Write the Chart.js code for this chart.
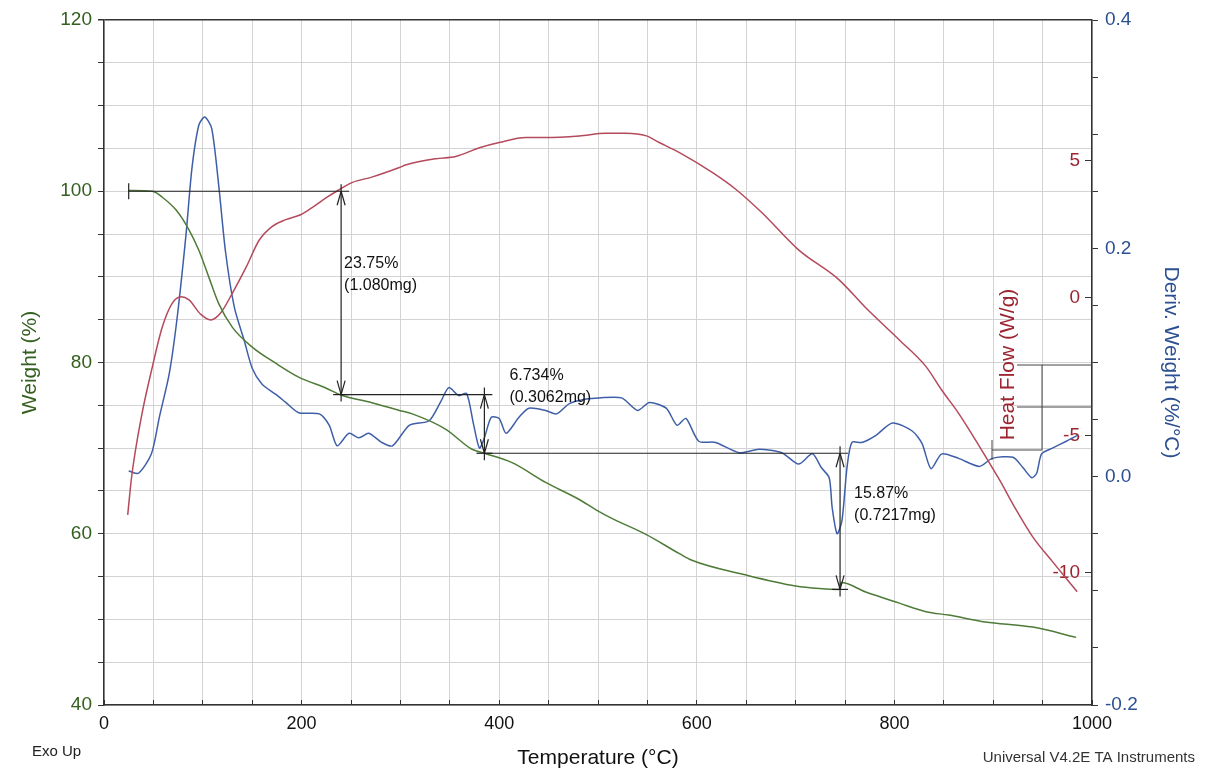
<!DOCTYPE html>
<html>
<head>
<meta charset="utf-8">
<script src="https://cdn.jsdelivr.net/npm/chart.js@4.4.1/dist/chart.umd.min.js"></script>
<style>
body{margin:0;background:#fff;}
#wrap{width:1207px;height:774px;}
</style>
</head>
<body>
<div id="wrap"><canvas id="grafico" width="1207" height="774"></canvas></div>
<script>
let weightTemp = [25, 49, 59, 73, 86, 96, 106, 116, 130, 150, 174, 197, 225, 240, 271, 299, 312, 346, 372, 385,
    413, 447, 481, 498, 514, 549, 582, 595, 649, 700, 724, 744, 746, 771, 805, 832, 855, 892, 940, 984];
let weightValue = [100.1, 100.0, 99.3, 97.8, 95.5, 93.1, 90.0, 86.9, 84.1, 81.8, 79.9, 78.3, 77.0, 76.2, 75.3, 74.4, 74.0, 72.2, 69.9, 69.4,
    68.3, 66.0, 64.0, 62.8, 61.8, 59.9, 57.7, 56.9, 55.2, 53.9, 53.6, 53.5, 54.3, 53.2, 51.9, 50.9, 50.5, 49.7, 49.1, 47.9];

let heatTemp = [24, 28, 38, 49, 59, 69, 78, 86, 98, 108, 118, 130, 144, 157, 170, 184, 199, 211, 225, 238,
    251, 271, 299, 306, 336, 356, 380, 400, 427, 447, 481, 508, 528, 549, 562, 582, 616, 640, 666, 703,
    744, 771, 805, 832, 848, 865, 886, 906, 923, 940, 960, 985];
let heatValue = [-7.9, -6.5, -4.3, -2.5, -1.06, -0.2, 0.04, -0.07, -0.6, -0.8, -0.55, 0.18, 1.13, 2.1, 2.6, 2.85, 3.03, 3.3, 3.65, 3.94,
    4.2, 4.4, 4.75, 4.85, 5.07, 5.15, 5.47, 5.66, 5.84, 5.84, 5.9, 6.0, 6.0, 5.9, 5.66, 5.3, 4.56, 3.94, 3.1, 1.75,
    0.66, -0.36, -1.53, -2.5, -3.36, -4.2, -5.4, -6.6, -7.7, -8.7, -9.6, -10.7];

let derivTemp = [25, 35, 48, 56, 66, 74, 83, 89, 96, 102, 109, 116, 123, 132, 142, 150, 160, 174, 184, 197,
    218, 228, 236, 248, 258, 268, 281, 292, 309, 329, 341, 349, 359, 367, 374, 380, 385, 392, 400, 407,
    420, 430, 447, 458, 471, 488, 501, 524, 540, 552, 569, 580, 589, 602, 619, 643, 663, 686, 703, 717,
    726, 734, 737, 742, 747, 752, 757, 767, 781, 798, 818, 828, 837, 848, 865, 886, 899, 920, 930, 939,
    944, 949, 960, 974, 985];
let derivValue = [0.005, 0.003, 0.020, 0.052, 0.090, 0.139, 0.212, 0.270, 0.308, 0.315, 0.305, 0.256, 0.197, 0.148, 0.119, 0.095, 0.081, 0.072, 0.065, 0.056,
    0.055, 0.045, 0.027, 0.038, 0.034, 0.038, 0.030, 0.027, 0.045, 0.049, 0.066, 0.078, 0.071, 0.073, 0.046, 0.025, 0.034, 0.052, 0.051, 0.038,
    0.052, 0.060, 0.058, 0.055, 0.064, 0.068, 0.069, 0.069, 0.058, 0.065, 0.060, 0.045, 0.051, 0.031, 0.030, 0.021, 0.024, 0.021, 0.011, 0.020,
    0.008, -0.001, -0.027, -0.050, -0.038, 0.008, 0.030, 0.030, 0.036, 0.047, 0.040, 0.029, 0.007, 0.020, 0.016, 0.009, 0.016, 0.017, 0.008, -0.001,
    0.003, 0.020, 0.025, 0.031, 0.036];

// escalones de perdida de peso
let stepStart = [25, 240, 385];
let stepTemp = [240, 385, 745];
let stepFrom = [100, 76.25, 69.4];
let stepTo = [76.25, 69.4, 53.5];
let stepPct = ["23.75%", "6.734%", "15.87%"];
let stepMass = ["(1.080mg)", "(0.3062mg)", "(0.7217mg)"];

// estilo
let labelDx = [3, 25, 14];
let labelDy = [-18, -37, -17];
let verde = "#4f7b38", verdeTexto = "#34601f";
let rojo = "#b44a5b", rojoTexto = "#9c2530";
let azul = "#3e5fa8", azulTexto = "#2c4f92";
let rejilla = "#d3d3d3", eje = "#333333";
let fuente = "'Liberation Sans', Arial, sans-serif";

Chart.defaults.font.family = fuente;

function puntos(xs, ys){
    return xs.map((t, i) => ({x: t, y: ys[i]}));
}

let anotaciones = {
    id: "anotaciones",
    afterDatasetsDraw(chart){
        let c = chart.ctx;
        let x = chart.scales.x;
        let y = chart.scales.yWeight;
        let area = chart.chartArea;
        c.save();
        c.strokeStyle = "#222";
        c.lineWidth = 1.2;
        let linea = (x1, y1, x2, y2) => { c.beginPath(); c.moveTo(x1, y1); c.lineTo(x2, y2); c.stroke(); };
        let flecha = (px, py, dir) => { linea(px - 4, py + dir * 14, px, py); linea(px, py, px + 4, py + dir * 14); };
        c.fillStyle = "#111";
        c.font = "16px " + fuente;
        c.textAlign = "left";
        c.textBaseline = "middle";
        for(let i = 0; i < stepTemp.length; i++){
            let px = x.getPixelForValue(stepTemp[i]);
            let x0 = x.getPixelForValue(stepStart[i]);
            let y1 = y.getPixelForValue(stepFrom[i]);
            let y2 = y.getPixelForValue(stepTo[i]);
            linea(x0, y1, px + 8, y1);
            linea(px - 8, y2, px + 8, y2);
            linea(px, y1 - 7, px, y2 + 7);
            flecha(px, y1, 1);
            flecha(px, y2, -1);
            let ty = (y1 + y2) / 2 + labelDy[i];
            c.fillText(stepPct[i], px + labelDx[i], ty - 11);
            c.fillText(stepMass[i], px + labelDx[i], ty + 11);
        }
        let xs = x.getPixelForValue(stepStart[0]);
        let ys = y.getPixelForValue(stepFrom[0]);
        linea(xs, ys - 8, xs, ys + 8);

        // restos del recuadro junto al titulo de flujo de calor
        c.strokeStyle = "#444";
        c.lineWidth = 1;
        let r = area.right;
        linea(r - 75, 365, r, 365);
        linea(r - 75, 407, r, 407);
        linea(r - 50, 365, r - 50, 450);
        linea(r - 100, 450, r - 50, 450);
        linea(r - 100, 440, r - 100, 460);

        // titulo del eje de flujo de calor
        c.save();
        c.translate(r - 84, (area.top + area.bottom) / 2 + 2);
        c.rotate(-Math.PI / 2);
        c.fillStyle = rojoTexto;
        c.font = "21px " + fuente;
        c.textAlign = "center";
        c.fillText("Heat Flow (W/g)", 0, 0);
        c.restore();

        c.fillStyle = "#222";
        c.font = "15px " + fuente;
        c.textAlign = "left";
        c.fillText("Exo Up", 32, 752);
        c.fillStyle = "#333";
        c.textAlign = "right";
        c.fillText("Universal V4.2E TA Instruments", 1195, 758);
        c.restore();
    }
};

window.onload = function(){
    let ctx = document.getElementById("grafico").getContext("2d");
    let grafico = new Chart(ctx, {
        type: "line",
        data: {
            datasets: [{
                label: "Weight",
                data: puntos(weightTemp, weightValue),
                yAxisID: "yWeight",
                borderColor: verde,
                borderWidth: 1.5,
                pointRadius: 0,
                cubicInterpolationMode: "monotone"
            }, {
                label: "Heat Flow",
                data: puntos(heatTemp, heatValue),
                yAxisID: "yHeat",
                borderColor: rojo,
                borderWidth: 1.5,
                pointRadius: 0,
                cubicInterpolationMode: "monotone"
            }, {
                label: "Deriv. Weight",
                data: puntos(derivTemp, derivValue),
                yAxisID: "yDeriv",
                borderColor: azul,
                borderWidth: 1.5,
                pointRadius: 0,
                tension: 0.25
            }]
        },
        options: {
            responsive: false,
            animation: false,
            layout: { padding: { top: 20 } },
            plugins: { legend: { display: false }, tooltip: { enabled: false } },
            scales: {
                x: {
                    type: "linear",
                    min: 0,
                    max: 1000,
                    ticks: {
                        stepSize: 50,
                        autoSkip: false,
                        maxRotation: 0,
                        padding: 13,
                        color: "#111",
                        font: { size: 18 },
                        callback: v => v % 200 === 0 ? v : ""
                    },
                    grid: { color: rejilla, tickLength: -5, tickColor: eje },
                    border: { color: eje, width: 1.5 },
                    title: { display: true, text: "Temperature (°C)", color: "#111", font: { size: 21 }, padding: { top: 0, bottom: 3 } },
                    afterFit: s => { s.height = 69; }
                },
                yWeight: {
                    position: "left",
                    min: 40,
                    max: 120,
                    ticks: {
                        stepSize: 5,
                        autoSkip: false,
                        padding: 6,
                        color: verdeTexto,
                        font: { size: 19 },
                        callback: v => v % 20 === 0 ? v : ""
                    },
                    grid: {
                        color: c => c.tick && c.tick.value === 120 ? eje : rejilla,
                        lineWidth: c => c.tick && c.tick.value === 120 ? 1.5 : 1,
                        tickLength: 6,
                        tickColor: eje
                    },
                    border: { color: eje, width: 1.5 },
                    title: { display: true, text: "Weight (%)", color: verdeTexto, font: { size: 21 }, padding: { top: 18 } },
                    afterFit: s => { s.width = 104; }
                },
                yHeat: {
                    position: "right",
                    min: -14.82,
                    max: 10.12,
                    afterBuildTicks: s => { s.ticks = s.ticks.filter(t => t.value >= -10 && t.value <= 5); },
                    ticks: {
                        stepSize: 5,
                        mirror: true,
                        padding: -12,
                        color: rojoTexto,
                        font: { size: 19 }
                    },
                    grid: { drawOnChartArea: false, tickLength: -7, tickColor: eje },
                    border: { display: false },
                    afterFit: s => { s.width = 0; }
                },
                yDeriv: {
                    position: "right",
                    min: -0.2,
                    max: 0.4,
                    ticks: {
                        stepSize: 0.05,
                        autoSkip: false,
                        padding: 7,
                        color: azulTexto,
                        font: { size: 19 },
                        callback: v => Math.abs(v * 5 - Math.round(v * 5)) < 1e-6 ? v.toFixed(1) : ""
                    },
                    grid: { drawOnChartArea: false, tickLength: 6, tickColor: eje },
                    border: { color: eje, width: 1.5 },
                    title: { display: true, text: "Deriv. Weight (%/°C)", color: azulTexto, font: { size: 21 }, padding: { top: 24 } },
                    afterFit: s => { s.width = 115; }
                }
            }
        },
        plugins: [anotaciones]
    });
}
</script>
</body>
</html>
